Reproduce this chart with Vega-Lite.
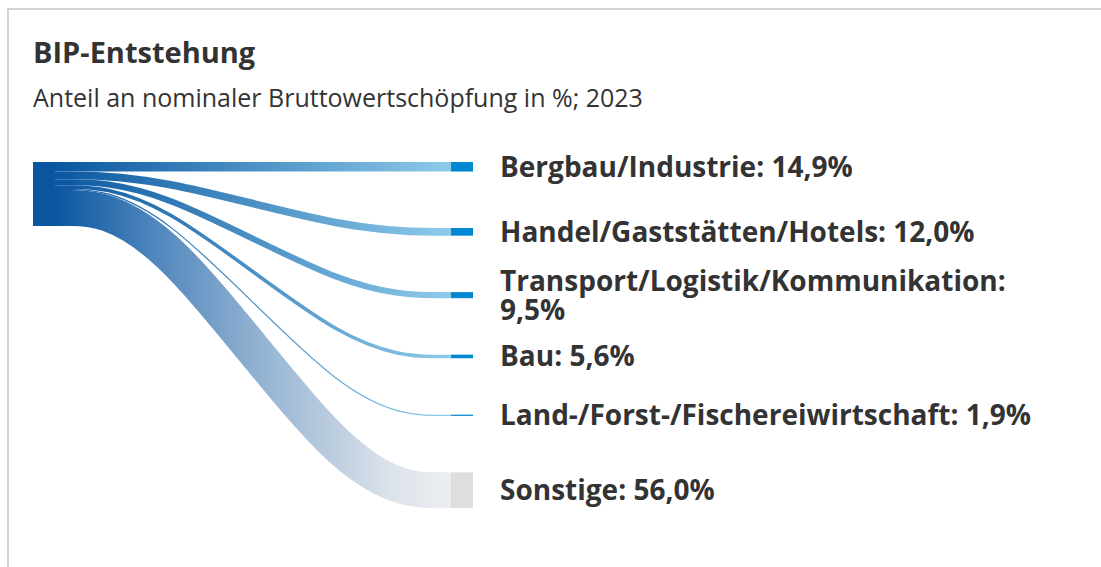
{
  "$schema": "https://vega.github.io/schema/vega-lite/v6.json",
  "width": 1101,
  "height": 567,
  "autosize": {"type": "none"},
  "padding": 0,
  "background": "#ffffff",
  "config": {"view": {"stroke": null}, "font": "Open Sans"},
  "title": {
    "text": "BIP-Entstehung",
    "subtitle": "Anteil an nominaler Bruttowertschöpfung in %; 2023",
    "anchor": "start",
    "frame": "group",
    "orient": "top",
    "offset": -112,
    "dx": 33,
    "font": "Open Sans",
    "fontSize": 29,
    "fontWeight": "bold",
    "color": "#333333",
    "subtitleFont": "Open Sans",
    "subtitleFontSize": 25,
    "subtitleColor": "#333333",
    "subtitlePadding": 18
  },
  "data": {
    "values": [
      {"sektor": "Bergbau/Industrie", "anteil": 14.9, "rang": 0, "beschriftung": "Bergbau/Industrie: 14,9%"},
      {"sektor": "Handel/Gaststätten/Hotels", "anteil": 12.0, "rang": 1, "beschriftung": "Handel/Gaststätten/Hotels: 12,0%"},
      {"sektor": "Transport/Logistik/Kommunikation", "anteil": 9.5, "rang": 2, "beschriftung": "Transport/Logistik/Kommunikation:\n9,5%"},
      {"sektor": "Bau", "anteil": 5.6, "rang": 3, "beschriftung": "Bau: 5,6%"},
      {"sektor": "Land-/Forst-/Fischereiwirtschaft", "anteil": 1.9, "rang": 4, "beschriftung": "Land-/Forst-/Fischereiwirtschaft: 1,9%"},
      {"sektor": "Sonstige", "anteil": 56.0, "rang": 5, "beschriftung": "Sonstige: 56,0%"}
    ]
  },
  "transform": [
    {"window": [{"op": "sum", "field": "anteil", "as": "kum"}], "sort": [{"field": "rang", "order": "ascending"}], "frame": [null, 0]},
    {"calculate": "datum.kum - datum.anteil", "as": "q_oben"},
    {"calculate": "datum.q_oben + datum.rang * 88.2", "as": "z_oben"},
    {"calculate": "datum.z_oben + datum.anteil", "as": "z_unten"},
    {"calculate": "datum.q_oben + datum.anteil / 2", "as": "q_mitte"},
    {"calculate": "datum.z_oben + datum.anteil / 2", "as": "z_mitte"}
  ],
  "layer": [
    {
      "transform": [
        {"aggregate": [{"op": "count", "as": "n"}]},
        {"calculate": "-0.118687", "as": "x_a"},
        {"calculate": "3", "as": "x_b"},
        {"calculate": "-239.0625", "as": "y_a"},
        {"calculate": "700", "as": "y_b"}
      ],
      "mark": {"type": "rect", "fill": "#ffffff", "fillOpacity": 0, "stroke": "#d2d2d2", "strokeWidth": 2},
      "encoding": {
        "x": {"field": "x_a", "type": "quantitative", "scale": {"domain": [-0.1388889, 2.6414141], "nice": false, "zero": false}, "axis": null},
        "x2": {"field": "x_b"},
        "y": {"field": "y_a", "type": "quantitative", "scale": {"domain": [-253.125, 632.8125], "reverse": true, "nice": false, "zero": false}, "axis": null},
        "y2": {"field": "y_b"}
      }
    },
    {
      "transform": [
        {"filter": "datum.q_oben === datum.z_oben && datum.sektor !== 'Sonstige'"},
        {"calculate": "0", "as": "x_a"},
        {"calculate": "1", "as": "x_b"}
      ],
      "mark": {"type": "rect", "fill": {"gradient": "linear", "x1": 0, "x2": 1, "y1": 0, "y2": 0, "stops": [{"offset": 0, "color": "#0a56a0"}, {"offset": 1, "color": "#8ecbea"}]}},
      "encoding": {
        "x": {"field": "x_a", "type": "quantitative", "scale": {"domain": [-0.1388889, 2.6414141], "nice": false, "zero": false}, "axis": null},
        "x2": {"field": "x_b"},
        "y": {"field": "q_oben", "type": "quantitative", "scale": {"domain": [-253.125, 632.8125], "reverse": true, "nice": false, "zero": false}, "axis": null},
        "y2": {"field": "kum"}
      }
    },
    {
      "transform": [
        {"filter": "datum.q_oben !== datum.z_oben && datum.sektor !== 'Sonstige'"},
        {"calculate": "datum.q_mitte", "as": "q_mitte_2"},
        {"calculate": "datum.z_mitte", "as": "z_mitte_2"},
        {"fold": ["q_mitte", "q_mitte_2", "z_mitte_2", "z_mitte"], "as": ["punkt", "y_link"]},
        {"calculate": "[0, 0.25, 0.75, 1][indexof(['q_mitte', 'q_mitte_2', 'z_mitte_2', 'z_mitte'], datum.punkt)]", "as": "stufe"}
      ],
      "mark": {"type": "line", "interpolate": "basis", "strokeCap": "butt", "stroke": {"gradient": "linear", "x1": 0, "x2": 1, "y1": 0, "y2": 0, "stops": [{"offset": 0, "color": "#0a56a0"}, {"offset": 1, "color": "#8ecbea"}]}},
      "encoding": {
        "x": {"field": "stufe", "type": "quantitative", "scale": {"domain": [-0.1388889, 2.6414141], "nice": false, "zero": false}, "axis": null},
        "y": {"field": "y_link", "type": "quantitative", "scale": {"domain": [-253.125, 632.8125], "reverse": true, "nice": false, "zero": false}, "axis": null},
        "detail": {"field": "sektor", "type": "nominal"},
        "strokeWidth": {"field": "anteil", "type": "quantitative", "scale": {"domain": [0, 100], "range": [0, 64]}, "legend": null}
      }
    },
    {
      "transform": [
        {"filter": "datum.sektor === 'Sonstige'"},
        {"calculate": "datum.q_mitte", "as": "q_mitte_2"},
        {"calculate": "datum.z_mitte", "as": "z_mitte_2"},
        {"fold": ["q_mitte", "q_mitte_2", "z_mitte_2", "z_mitte"], "as": ["punkt", "y_link"]},
        {"calculate": "[0, 0.25, 0.75, 1][indexof(['q_mitte', 'q_mitte_2', 'z_mitte_2', 'z_mitte'], datum.punkt)]", "as": "stufe"}
      ],
      "mark": {"type": "line", "interpolate": "basis", "strokeCap": "butt", "stroke": {"gradient": "linear", "x1": 0, "x2": 1, "y1": 0, "y2": 0, "stops": [{"offset": 0, "color": "#0a56a0"}, {"offset": 0.25, "color": "#4f86bd"}, {"offset": 0.5, "color": "#8fb0d0"}, {"offset": 0.85, "color": "#dde3ea"}, {"offset": 1, "color": "#eceef1"}]}},
      "encoding": {
        "x": {"field": "stufe", "type": "quantitative", "scale": {"domain": [-0.1388889, 2.6414141], "nice": false, "zero": false}, "axis": null},
        "y": {"field": "y_link", "type": "quantitative", "scale": {"domain": [-253.125, 632.8125], "reverse": true, "nice": false, "zero": false}, "axis": null},
        "detail": {"field": "sektor", "type": "nominal"},
        "strokeWidth": {"field": "anteil", "type": "quantitative", "scale": {"domain": [0, 100], "range": [0, 64]}, "legend": null}
      }
    },
    {
      "transform": [
        {"aggregate": [{"op": "sum", "field": "anteil", "as": "gesamt"}]},
        {"calculate": "-0.0555556", "as": "x_a"},
        {"calculate": "0", "as": "x_b"},
        {"calculate": "0", "as": "y_a"}
      ],
      "mark": {"type": "rect", "color": "#0a56a0"},
      "encoding": {
        "x": {"field": "x_a", "type": "quantitative", "scale": {"domain": [-0.1388889, 2.6414141], "nice": false, "zero": false}, "axis": null},
        "x2": {"field": "x_b"},
        "y": {"field": "y_a", "type": "quantitative", "scale": {"domain": [-253.125, 632.8125], "reverse": true, "nice": false, "zero": false}, "axis": null},
        "y2": {"field": "gesamt"}
      }
    },
    {
      "transform": [
        {"calculate": "1", "as": "x_a"},
        {"calculate": "1.0555556", "as": "x_b"}
      ],
      "mark": {"type": "rect"},
      "encoding": {
        "x": {"field": "x_a", "type": "quantitative", "scale": {"domain": [-0.1388889, 2.6414141], "nice": false, "zero": false}, "axis": null},
        "x2": {"field": "x_b"},
        "y": {"field": "z_oben", "type": "quantitative", "scale": {"domain": [-253.125, 632.8125], "reverse": true, "nice": false, "zero": false}, "axis": null},
        "y2": {"field": "z_unten"},
        "color": {"field": "sektor", "type": "nominal", "scale": {"domain": ["Bergbau/Industrie", "Handel/Gaststätten/Hotels", "Transport/Logistik/Kommunikation", "Bau", "Land-/Forst-/Fischereiwirtschaft", "Sonstige"], "range": ["#0088d0", "#0088d0", "#0088d0", "#0088d0", "#0088d0", "#dedede"]}, "legend": null}
      }
    },
    {
      "transform": [
        {"calculate": "1.1237374", "as": "x_text"},
        {"calculate": "indexof(datum.beschriftung, ':\\n') >= 0 ? datum.z_mitte - 22.66 : datum.z_mitte", "as": "y_text"}
      ],
      "mark": {"type": "text", "align": "left", "baseline": "middle", "dy": 2, "font": "Open Sans", "fontSize": 28, "fontWeight": 700, "color": "#333333", "lineBreak": "\n", "lineHeight": 29},
      "encoding": {
        "x": {"field": "x_text", "type": "quantitative", "scale": {"domain": [-0.1388889, 2.6414141], "nice": false, "zero": false}, "axis": null},
        "y": {"field": "y_text", "type": "quantitative", "scale": {"domain": [-253.125, 632.8125], "reverse": true, "nice": false, "zero": false}, "axis": null},
        "text": {"field": "beschriftung", "type": "nominal"}
      }
    }
  ]
}
